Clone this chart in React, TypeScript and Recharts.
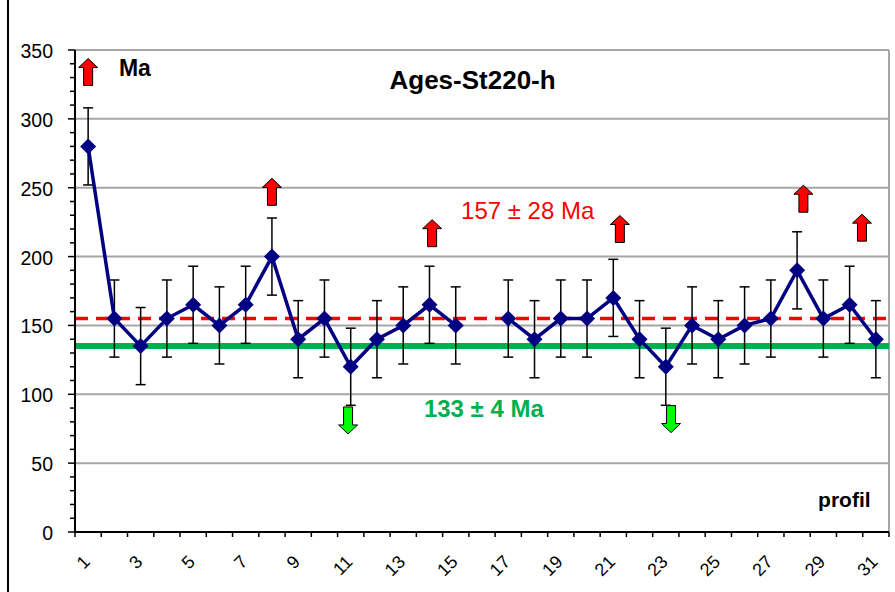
import {
  ComposedChart,
  Line,
  XAxis,
  YAxis,
  ReferenceLine,
  ReferenceDot,
  ErrorBar,
  Scatter
} from 'recharts';

// profils 1..31, le n°16 n'a pas d'âge
const profils = [1, 2, 3, 4, 5, 6, 7, 8, 9, 10, 11, 12, 13, 14, 15, 16, 17, 18, 19, 20, 21, 22, 23, 24, 25, 26, 27, 28, 29, 30, 31];
const ages = [280, 155, 135, 155, 165, 150, 165, 200, 140, 155, 120, 140, 150, 165, 150, null, 155, 140, 155, 155, 170, 140, 120, 150, 140, 150, 155, 190, 155, 165, 140];
const errors = [28, 28, 28, 28, 28, 28, 28, 28, 28, 28, 28, 28, 28, 28, 28, null, 28, 28, 28, 28, 28, 28, 28, 28, 28, 28, 28, 28, 28, 28, 28];

const yTicks = [0, 10, 20, 30, 40, 50, 60, 70, 80, 90, 100, 110, 120, 130, 140, 150, 160, 170, 180, 190, 200, 210, 220, 230, 240, 250, 260, 270, 280, 290, 300, 310, 320, 330, 340, 350];
const gridValues = [50, 100, 150, 200, 250, 300, 350];
const xTicks = [0.5, 1, 1.5, 2.5, 3, 3.5, 4.5, 5, 5.5, 6.5, 7, 7.5, 8.5, 9, 9.5, 10.5, 11, 11.5, 12.5, 13, 13.5, 14.5, 15, 15.5, 16.5, 17, 17.5, 18.5, 19, 19.5, 20.5, 21, 21.5, 22.5, 23, 23.5, 24.5, 25, 25.5, 26.5, 27, 27.5, 28.5, 29, 29.5, 30.5, 31, 31.5];

const meanAll = 155; // 157 ± 28 Ma
const meanMain = 135; // 133 ± 4 Ma

// flèches (au-dessus : âges trop vieux, en dessous : trop jeunes)
const upArrows = [
  { x: 1, y: 334 },
  { x: 8, y: 247 },
  { x: 14.1, y: 217 },
  { x: 21.25, y: 220 },
  { x: 28.24, y: 242 },
  { x: 30.47, y: 221 }
];
const downArrows = [
  { x: 10.9, y: 81 },
  { x: 23.2, y: 82 }
];

const data = profils.map((p, i) => ({ x: p, age: ages[i], err: errors[i] }));

const FONT = '"Liberation Sans", Arial, sans-serif';

const Diamond = (props: any) => {
  const { cx, cy, value } = props;
  if (cx == null || cy == null || value == null) return <g />;
  const r = 8;
  return (
    <polygon
      points={`${cx},${cy - r} ${cx + r},${cy} ${cx},${cy + r} ${cx - r},${cy}`}
      fill="#000080"
    />
  );
};

const Arrow = ({ cx, cy, down, fill }: any) => {
  const s = down ? -1 : 1;
  const h = 13.5;
  const pts = [
    [0, -h],
    [9.5, -h + 9],
    [4.5, -h + 9],
    [4.5, h],
    [-4.5, h],
    [-4.5, -h + 9],
    [-9.5, -h + 9]
  ]
    .map(([dx, dy]) => `${cx + dx},${cy + s * dy}`)
    .join(' ');
  return <polygon points={pts} fill={fill} stroke="#000" strokeWidth={1} />;
};

const YTick = (props: any) => {
  const { x, y, payload } = props;
  const v = payload.value;
  const major = v % 50 === 0;
  return (
    <g>
      <line x1={x - (major ? 7 : 5)} x2={x} y1={y} y2={y} stroke="#000" strokeWidth={1.5} />
      {major && (
        <text x={x - 22} y={y + 8} textAnchor="end" fontSize={19.5} fontFamily={FONT} fill="#000">
          {v}
        </text>
      )}
    </g>
  );
};

const XTick = (props: any) => {
  const { x, y, payload } = props;
  const v = payload.value;
  if (!Number.isInteger(v)) {
    return <line x1={x} x2={x} y1={y} y2={y + 5} stroke="#000" strokeWidth={1.5} />;
  }
  if (v % 2 === 0) return <g />;
  const tx = x + 3;
  const ty = y + 31;
  return (
    <text
      x={tx}
      y={ty}
      textAnchor="end"
      fontSize={18}
      fontFamily={FONT}
      fill="#000"
      transform={`rotate(-45, ${tx}, ${ty})`}
    >
      {v}
    </text>
  );
};

const note = (text: string, color: string, size: number, bold: boolean) => (p: any) => (
  <text
    x={p.cx}
    y={p.cy}
    textAnchor="middle"
    fontSize={size}
    fontWeight={bold ? 'bold' : 'normal'}
    fontFamily={FONT}
    fill={color}
  >
    {text}
  </text>
);

export default function App() {
  return (
    <div style={{ position: 'absolute', left: 0, top: 0, width: 895, height: 592, background: '#fff' }}>
      <div style={{ position: 'absolute', left: 7, top: 0, width: 2, height: 592, background: '#000' }} />
      <ComposedChart
        width={895}
        height={592}
        data={data}
        margin={{ top: 50, right: 6, bottom: 0, left: 0 }}
      >
        {gridValues.map(v => (
          <ReferenceLine key={v} y={v} stroke="#a6a6a6" strokeWidth={2} />
        ))}
        <ReferenceLine x={31.5} stroke="#a6a6a6" strokeWidth={2} />
        <XAxis
          dataKey="x"
          type="number"
          domain={[0.5, 31.5]}
          ticks={xTicks}
          interval={0}
          tickSize={0}
          tickMargin={0}
          tickLine={false}
          tick={<XTick />}
          axisLine={{ stroke: '#000', strokeWidth: 2 }}
          height={60}
        />
        <YAxis
          type="number"
          domain={[0, 350]}
          ticks={yTicks}
          interval={0}
          tickSize={0}
          tickMargin={0}
          tickLine={false}
          tick={<YTick />}
          axisLine={{ stroke: '#000', strokeWidth: 2 }}
          width={75}
        />
        <ReferenceLine y={meanMain} stroke="#00b050" strokeWidth={6} />
        <ReferenceLine y={meanAll} stroke="#ff0000" strokeWidth={3.5} strokeDasharray="13 8" />
        <Line
          dataKey="age"
          stroke="#000080"
          strokeWidth={3.5}
          dot={<Diamond />}
          activeDot={false}
          isAnimationActive={false}
        >
          <ErrorBar dataKey="err" direction="y" width={5} stroke="#000" strokeWidth={1.5} />
        </Line>
        <Scatter
          data={upArrows}
          dataKey="y"
          isAnimationActive={false}
          shape={(p: any) => <Arrow cx={p.cx} cy={p.cy} fill="#ff0000" />}
        />
        <Scatter
          data={downArrows}
          dataKey="y"
          isAnimationActive={false}
          shape={(p: any) => <Arrow cx={p.cx} cy={p.cy} down fill="#00ff00" />}
        />
        <ReferenceDot x={2.78} y={331} r={0} shape={note('Ma', '#000', 23, true)} />
        <ReferenceDot x={15.64} y={322} r={0} shape={note('Ages-St220-h', '#000', 26, true)} />
        <ReferenceDot x={17.74} y={227} r={0} shape={note('157 ± 28 Ma', '#ff0000', 24, false)} />
        <ReferenceDot x={16.07} y={83.5} r={0} shape={note('133 ± 4 Ma', '#00b050', 24, true)} />
        <ReferenceDot x={29.8} y={18} r={0} shape={note('profil', '#000', 21, true)} />
      </ComposedChart>
    </div>
  );
}
